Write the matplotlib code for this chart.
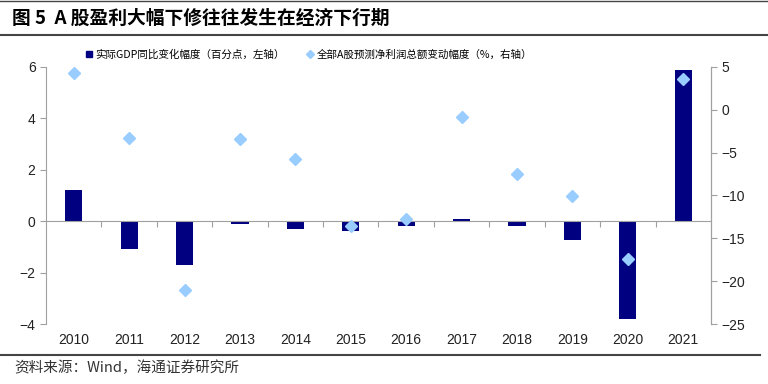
import matplotlib
matplotlib.use("Agg")
import matplotlib.pyplot as plt
from matplotlib.lines import Line2D

plt.rcParams['font.family'] = ['Liberation Sans', 'Noto Sans CJK SC', 'DejaVu Sans']

years = ['2010', '2011', '2012', '2013', '2014', '2015', '2016', '2017', '2018', '2019', '2020', '2021']
gdp_change = [1.2, -1.1, -1.7, -0.1, -0.3, -0.4, -0.2, 0.1, -0.2, -0.75, -3.8, 5.9]
profit_change = [4.3, -3.3, -21.0, -3.35, -5.7, -13.6, -12.7, -0.8, -7.5, -10.1, -17.4, 3.6]

bar_color = '#000080'
dot_color = '#99CCFF'
axis_gray = '#a0a0a0'
cjk = ['Noto Sans CJK SC', 'DejaVu Sans']

fig = plt.figure(figsize=(7.68, 3.84), dpi=100)
ax = fig.add_axes([46 / 768, 1 - 324 / 384, (711 - 46) / 768, (324 - 67) / 384])
ax2 = ax.twinx()

x = list(range(len(years)))
ax.bar(x, gdp_change, width=0.31, color=bar_color, zorder=2)
ax2.plot(x, profit_change, linestyle='none', marker='D', markersize=6.2,
         color=dot_color, markeredgecolor=dot_color, zorder=3)

ax.set_xlim(-0.5, len(years) - 0.5)
ax.set_ylim(-4, 6)
ax.set_yticks([-4, -2, 0, 2, 4, 6])
ax2.set_ylim(-25, 5)
ax2.set_yticks([-25, -20, -15, -10, -5, 0, 5])

# x axis sits at zero, labels go below the plot
ax.spines['bottom'].set_position(('data', 0))
ax.set_xticks([i + 0.5 for i in x[:-1]])
ax.set_xticklabels([])
ax.tick_params(axis='x', direction='out', length=4, color=axis_gray)
for i, yr in enumerate(years):
    ax.text(i, -0.035, yr, transform=ax.get_xaxis_transform(), ha='center', va='top',
            fontsize=10, color='#222222')

ax.spines['top'].set_visible(False)
for sp in ['top', 'bottom', 'left']:
    ax2.spines[sp].set_visible(False)
for a in (ax, ax2):
    for sp in a.spines.values():
        sp.set_color(axis_gray)
    a.tick_params(axis='y', direction='out', length=4, color=axis_gray, labelsize=10, labelcolor='#222222')

handles = [
    Line2D([], [], linestyle='none', marker='s', markersize=5, color=bar_color),
    Line2D([], [], linestyle='none', marker='D', markersize=4, color=dot_color),
]
labels = ['实际GDP同比变化幅度（百分点，左轴）', '全部A股预测净利润总额变动幅度（%，右轴）']
fig.legend(handles, labels, loc='center left', bbox_to_anchor=(0.097, 1 - 55 / 384),
           ncol=2, frameon=False, handletextpad=0.1, columnspacing=1.9,
           handlelength=1.0, prop={'family': cjk, 'size': 7.6})

# title and source
fig.text(12 / 768, 1 - 18 / 384, '图 5  A 股盈利大幅下修往往发生在经济下行期', fontsize=13.5,
         fontweight='bold', va='center', ha='left', family=cjk)
fig.add_artist(Line2D([0, 1], [1 - 1 / 384, 1 - 1 / 384], transform=fig.transFigure,
                      color='#444444', linewidth=1))
fig.add_artist(Line2D([0, 1], [1 - 35 / 384, 1 - 35 / 384], transform=fig.transFigure,
                      color='#444444', linewidth=1.5))
fig.add_artist(Line2D([0, 0.99], [1 - 355 / 384, 1 - 355 / 384], transform=fig.transFigure,
                      color='#444444', linewidth=1.5))
fig.text(14 / 768, 1 - 368 / 384, '资料来源：Wind，海通证券研究所', fontsize=10.5, va='center', ha='left',
         color='#333333', family=cjk)

fig.savefig('out.png', dpi=100)
